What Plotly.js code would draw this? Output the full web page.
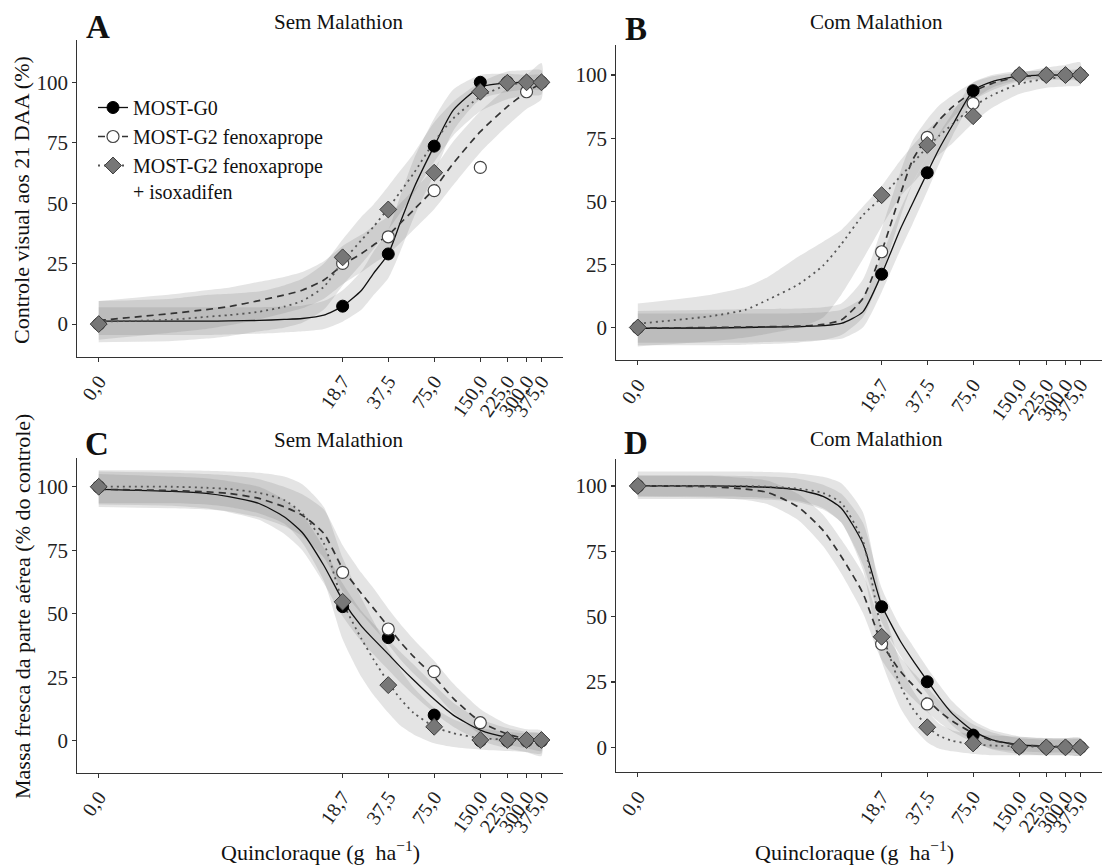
<!DOCTYPE html>
<html><head><meta charset="utf-8">
<script src="https://cdn.plot.ly/plotly-3.0.1.min.js"></script>
<style>body{margin:0;background:#fff}#chart{width:1106px;height:866px}</style>
</head><body><div id="chart"></div><script>
// ---------- data ----------
const DOSES = [0, 18.7, 37.5, 75, 150, 225, 300, 375];
const TICK_LABELS = ['0,0','18,7','37,5','75,0','150,0','225,0','300,0','375,0'];
const SERIES_NAMES = ['MOST-G0', 'MOST-G2 fenoxaprope', 'MOST-G2 fenoxaprope<br>+ isoxadifen'];
const PANEL_TITLES = ['Sem Malathion', 'Com Malathion', 'Sem Malathion', 'Com Malathion'];
const PANEL_LETTERS = ['A', 'B', 'C', 'D'];
const Y_TITLES = ['Controle visual aos 21 DAA (%)', 'Massa fresca da parte aérea (% do controle)'];
const X_TITLE = 'Quincloraque (g\u00a0\u00a0ha<sup>\u22121</sup>)';

// observed means (one value per dose)
const A_G0_OBS  = [0, 7.4, 29, 73.6, 100, 100, 100, 100];
const A_FEN_OBS = [0, 25.1, 36.1, 55.2, 64.8, 100, 96.1, 100];
const A_ISO_OBS = [0, 27.6, 47.4, 62.6, 96.1, 99.8, 100, 100];
const B_G0_OBS  = [0, 21.1, 61.3, 93.8, 100, 100, 100, 100];
const B_FEN_OBS = [0, 30, 75.3, 88.8, 100, 100, 100, 100];
const B_ISO_OBS = [0, 52.4, 72.3, 83.7, 100, 100, 100, 100];
const C_G0_OBS  = [100, 52.8, 40.6, 10.1, 0, 0, 0, 0];
const C_FEN_OBS = [100, 66.3, 44, 27.2, 7.1, 0.3, 0, 0];
const C_ISO_OBS = [100, 54.7, 21.9, 5.5, 0.3, 0.3, 0.3, 0.3];
const D_G0_OBS  = [100, 53.8, 25.1, 4.7, 0, 0, 0, 0];
const D_FEN_OBS = [100, 39.5, 16.6, 1.5, 0, 0, 0, 0];
const D_ISO_OBS = [100, 42.3, 7.7, 1.5, 0.2, 0, 0, 0];

// fitted curves and confidence bands, read at these doses
const CURVE_DOSES = [0, 1, 2, 3, 5, 7.5, 10, 14, 18.7, 25, 30, 37.5, 45, 55, 75, 100, 150, 225, 300, 375];

const A_G0_FIT  = [1.2,1.2,1.2,1.3,1.5,1.9,2.3,3.7,7.4,14,21,29,42,56,73.6,88.5,98,99.8,100,100];
const A_G0_LO   = [-4.5,-4.5,-4.5,-4.3,-4,-3.5,-3,-2,1,6,12,19,30,44,62,80,93,96,97,97];
const A_G0_HI   = [7,7,7,7,7,7.3,7.6,9.5,14,22,30,39,53,68,85,97,103,103.5,103,103];
const A_FEN_FIT = [1.5,4.4,6,7.2,9.7,12,14,18.2,24.4,29.2,32.7,36.8,41.7,47.2,56,66.5,79.6,89.9,96,99.6];
const A_FEN_LO  = [-6.5,-3.5,-2,-0.5,2,4.5,6.5,10.5,16.5,21.5,25,29,33.5,39,47.5,57.5,71,82,89,93];
const A_FEN_HI  = [9.5,12.3,14,15,17.5,19.5,21.5,26,32.3,37,40.5,44.6,50,55.5,64.5,75.5,88,97.8,103,108];
const A_ISO_FIT = [1,1.8,3,3.7,5.1,7.2,9.6,15.4,25.8,34.8,40.3,47.9,54.7,62.3,75.4,85.1,94,98.9,99.8,100];
const A_ISO_LO  = [-7.5,-7,-6,-5,-3,-1.5,0.5,6,16,25,31,39,46,54,67,78,88,93,94.5,95];
const A_ISO_HI  = [9.5,10.5,12,12.5,13.5,16,18.7,25,35,44.5,49.5,57,63.5,70.5,83.5,92,100,104.5,105,105];

const B_G0_FIT  = [-0.3,-0.2,0,0.2,0.3,0.7,1.6,6.2,21.1,39.2,49.1,61.3,70.9,80.2,93.8,97.4,99.6,100,100,100];
const B_G0_LO   = [-6,-6,-6,-5.8,-5.5,-5,-4.5,0,14,31,41,54,65,76,90,95,98,98.5,98.5,98.5];
const B_G0_HI   = [5.5,5.5,5.5,5.5,5.6,6,7,12,28,47,57,68,77,85,97,100,101.5,101.5,101.5,101.5];
const B_FEN_FIT = [-0.3,0,0.2,0.3,0.5,1.2,3,11.5,30,53,66.3,75.5,82.2,87.4,93.4,96.7,99.3,100,100,100];
const B_FEN_LO  = [-7,-7,-6.8,-6.5,-6,-5,-3,4,21,44,57,68,76,83,90,94,97.5,98,98,98];
const B_FEN_HI  = [6.5,7,7.2,7.3,7.5,8,9.5,19,39,62,74,82.5,88,92,97,99.5,101,102,102,102];
const B_ISO_FIT = [1.5,4.5,7,11,17,24.5,33,44.5,51.5,60,65,71.5,76,80.5,87.5,92,96.5,98.5,99.3,99.7];
const B_ISO_LO  = [-7.5,-5.5,-4,-2.5,0,4,13,27,40,52,57,63.5,68.5,73,81,87,92.5,95,95.5,96];
const B_ISO_HI  = [9.5,13,16,20,28,34,38.6,47.8,56,66.3,72,78.2,82.5,86.5,92.7,96.5,100.7,103,104,105];

const C_G0_FIT  = [99,98.2,97.4,96.1,93.4,88.2,82,69,55.4,45,40,34.1,29.1,23.9,16.3,10.1,4.2,1.3,0.3,-0.2];
const C_G0_LO   = [93,92.5,91.5,90,87,81.5,75,62,49,39,34,28,23,18,11,5.5,0,-3,-4.5,-6];
const C_G0_HI   = [105,104,103.3,102.2,100,95,89,76,62,51,46,40,35,30,22,15,8.5,5,3.5,2.5];
const C_FEN_FIT = [99,98.5,98,97.4,95.4,92.1,88.8,81.6,67.8,57.9,52.1,44.9,38.9,33.1,25.2,16.7,7.5,2.6,0.8,0];
const C_FEN_LO  = [92,91.5,91,90.3,88,84.5,80.5,72,59,50,44.5,38,32,26.5,19,11,2.5,-1.5,-3,-4];
const C_FEN_HI  = [106,105.5,105,104.5,103,100,97,91,77,66,60,52,46,40,31.5,22.5,12.5,6.5,4.5,4];
const C_ISO_FIT = [100,100,99.6,99.1,97.6,94.8,89.5,77.7,54.7,40,32,23,16.5,11,5.5,3,1,0.5,0.3,0.3];
const C_ISO_LO  = [93.5,93.5,93,92,89.5,85.5,78,63,40,25,18,11,6,2.5,-1,-2.5,-3.5,-4,-4.5,-5];
const C_ISO_HI  = [106.5,106.5,106.3,106,105.5,104,101,92,72,56,47,36,28,21,13,8.5,5,3.5,3,3];

const D_G0_FIT  = [100,100,99.8,99.5,98.5,96,91.5,78,54.5,40.5,33.5,25.5,19,12.8,6.3,2.9,0.9,0.4,0.2,0.2];
const D_G0_LO   = [96,96,95.8,95.4,94.3,91.5,86,70,48,35,28,20.5,14,8.3,2.3,-0.8,-2.5,-3,-3,-3];
const D_G0_HI   = [104,104,103.8,103.6,102.8,100.5,97,86,61,46,39,30.5,24,17.5,10.3,6.6,4.2,3.6,3.5,3.5];
const D_FEN_FIT = [100,99.7,98.8,97.5,92,83,73,59,40,29,24,18.3,13.8,10,5.4,2.6,1,0.4,0.2,0.2];
const D_FEN_LO  = [96,95.6,94.6,93,87,77,66.5,51.5,33.5,23.5,18.8,13.5,9.5,6,2,-0.5,-1.5,-2,-2,-2];
const D_FEN_HI  = [104,103.9,103,102,97,89,79.5,66.5,46.5,34.5,29,23,18,14,8.8,5.7,3.5,3,3,3];
const D_ISO_FIT = [100,100,100,99.7,99,97.3,93.5,79,44.5,23.5,15,8,4.4,2.5,1.2,0.7,0.4,0.3,0.3,0.3];
const D_ISO_LO  = [95,95,95,94.7,93.8,91,86,68,33,15,8,2,-0.5,-1.5,-2.5,-3,-3,-3,-3,-3];
const D_ISO_HI  = [105.5,105.5,105.5,105.3,104.8,103.5,101,90,56,32,22,14,9,6.5,5,4.5,4,3.5,3.5,3.5];

// ---------- styling / layout ----------
const OFFSET = 0.5;  // log axis shift so that dose 0 can be shown
const xs = a => a.map(d => d + OFFSET);
const FONT = 'Liberation Serif, Times New Roman, serif';

const PANELS = [
  {ax: '', obs: [A_G0_OBS, A_FEN_OBS, A_ISO_OBS], fit: [A_G0_FIT, A_FEN_FIT, A_ISO_FIT],
   lo: [A_G0_LO, A_FEN_LO, A_ISO_LO], hi: [A_G0_HI, A_FEN_HI, A_ISO_HI]},
  {ax: '2', obs: [B_G0_OBS, B_FEN_OBS, B_ISO_OBS], fit: [B_G0_FIT, B_FEN_FIT, B_ISO_FIT],
   lo: [B_G0_LO, B_FEN_LO, B_ISO_LO], hi: [B_G0_HI, B_FEN_HI, B_ISO_HI]},
  {ax: '3', obs: [C_G0_OBS, C_FEN_OBS, C_ISO_OBS], fit: [C_G0_FIT, C_FEN_FIT, C_ISO_FIT],
   lo: [C_G0_LO, C_FEN_LO, C_ISO_LO], hi: [C_G0_HI, C_FEN_HI, C_ISO_HI]},
  {ax: '4', obs: [D_G0_OBS, D_FEN_OBS, D_ISO_OBS], fit: [D_G0_FIT, D_FEN_FIT, D_ISO_FIT],
   lo: [D_G0_LO, D_FEN_LO, D_ISO_LO], hi: [D_G0_HI, D_FEN_HI, D_ISO_HI]}
];

const LINE_STYLES = [
  {color: '#111', width: 1.3, dash: 'solid'},
  {color: '#333', width: 1.7, dash: '7px,5px'},
  {color: '#555', width: 1.8, dash: '2px,4px'}
];
const MARKERS = [
  {symbol: 'circle', size: 12, color: '#000', line: {color: '#000', width: 1}},
  {symbol: 'circle', size: 12, color: '#fff', line: {color: '#444', width: 1.2}},
  {symbol: 'diamond', size: 13, color: '#777', line: {color: '#3a3a3a', width: 1}}
];

const traces = [];
const cx = xs(CURVE_DOSES);
PANELS.forEach(p => {
  const xa = 'x' + p.ax, ya = 'y' + p.ax;
  for (let s = 0; s < 3; s++) {
    traces.push({
      type: 'scatter', mode: 'lines', xaxis: xa, yaxis: ya, showlegend: false, hoverinfo: 'skip',
      x: cx.concat(cx.slice().reverse()),
      y: p.hi[s].concat(p.lo[s].slice().reverse()),
      fill: 'toself', fillcolor: 'rgba(120,120,120,0.2)',
      line: {width: 0, shape: 'spline', smoothing: 0.6}
    });
  }
  for (let s = 0; s < 3; s++) {
    traces.push({
      type: 'scatter', mode: 'lines', xaxis: xa, yaxis: ya, showlegend: false, hoverinfo: 'skip',
      x: cx, y: p.fit[s], line: Object.assign({shape: 'spline', smoothing: 0.6}, LINE_STYLES[s])
    });
  }
  for (let s = 0; s < 3; s++) {
    traces.push({
      type: 'scatter', mode: 'markers', xaxis: xa, yaxis: ya, showlegend: false,
      x: xs(DOSES), y: p.obs[s], marker: MARKERS[s]
    });
  }
});
// legend entries (line + point symbol)
for (let s = 0; s < 3; s++) {
  traces.push({
    type: 'scatter', mode: 'lines+markers', xaxis: 'x', yaxis: 'y', name: SERIES_NAMES[s],
    x: [null], y: [null], showlegend: true,
    line: LINE_STYLES[s], marker: MARKERS[s]
  });
}

const W = 1106, H = 866;
const dxp = (a, b) => [a / W, b / W];
const dyp = (top, bot) => [1 - bot / H, 1 - top / H];

function xaxis(domain, anchor) {
  return {
    domain: domain, anchor: anchor, type: 'log', range: [-0.440, 2.712],
    tickmode: 'array', tickvals: xs(DOSES), ticktext: TICK_LABELS, tickangle: -55,
    showline: true, linecolor: '#333', linewidth: 1.1, ticks: 'outside', ticklen: 4,
    tickcolor: '#333', tickwidth: 1.1, showgrid: false, zeroline: false,
    tickfont: {family: FONT, size: 20, color: '#222'}
  };
}
function yaxis(domain, anchor, range) {
  return {
    domain: domain, anchor: anchor, range: range,
    tickmode: 'array', tickvals: [0, 25, 50, 75, 100],
    showline: true, linecolor: '#333', linewidth: 1.1, ticks: 'outside', ticklen: 4,
    tickcolor: '#333', tickwidth: 1.1, showgrid: false, zeroline: false,
    tickfont: {family: FONT, size: 21, color: '#222'}
  };
}

const ann = [];
const txt = (text, x, y, size, extra) => ann.push(Object.assign({
  text: text, x: x / W, y: 1 - y / H, xref: 'paper', yref: 'paper', showarrow: false,
  font: {family: FONT, size: size, color: '#111'}, xanchor: 'center', yanchor: 'middle'
}, extra || {}));

txt('<b>' + PANEL_LETTERS[0] + '</b>', 98, 27, 33);
txt('<b>' + PANEL_LETTERS[1] + '</b>', 636, 29, 33);
txt('<b>' + PANEL_LETTERS[2] + '</b>', 97, 444, 33);
txt('<b>' + PANEL_LETTERS[3] + '</b>', 636, 443, 33);
txt(PANEL_TITLES[0], 338, 22, 21);
txt(PANEL_TITLES[1], 876, 22, 21);
txt(PANEL_TITLES[2], 338, 440, 21);
txt(PANEL_TITLES[3], 876, 439, 21);
txt(Y_TITLES[0], 22, 200, 22, {textangle: -90});
txt(Y_TITLES[1], 22, 607, 22, {textangle: -90});
txt(X_TITLE, 320, 851, 22);
txt(X_TITLE, 854, 851, 22);

const layout = {
  width: W, height: H, margin: {l: 0, r: 0, t: 0, b: 0},
  paper_bgcolor: '#fff', plot_bgcolor: 'rgba(0,0,0,0)',
  font: {family: FONT, color: '#111'},
  showlegend: true,
  legend: {x: 93 / W, y: 1 - 88 / H, xanchor: 'left', yanchor: 'top', bgcolor: 'rgba(0,0,0,0)',
           font: {family: FONT, size: 20, color: '#111'}, itemwidth: 30, tracegroupgap: 0,
           valign: 'top'},
  xaxis:  xaxis(dxp(77.3, 562.6), 'y'),
  yaxis:  yaxis(dyp(40, 356.7), 'x', [-13.5, 117.5]),
  xaxis2: xaxis(dxp(616.4, 1101.5), 'y2'),
  yaxis2: yaxis(dyp(45, 360.3), 'x2', [-13.0, 111.9]),
  xaxis3: xaxis(dxp(77.3, 562.6), 'y3'),
  yaxis3: yaxis(dyp(458.3, 772.5), 'x3', [-12.5, 111.2]),
  xaxis4: xaxis(dxp(616.4, 1101.5), 'y4'),
  yaxis4: yaxis(dyp(459.3, 772.2), 'x4', [-9.5, 110.2]),
  annotations: ann
};

Plotly.newPlot('chart', traces, layout, {staticPlot: true, displayModeBar: false});
</script></body></html>
